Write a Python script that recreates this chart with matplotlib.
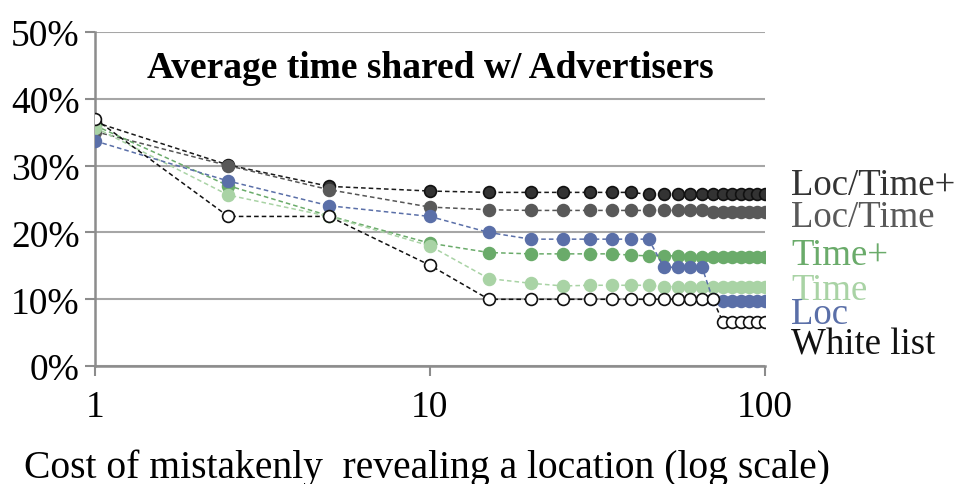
import numpy as np
import matplotlib.pyplot as plt
from matplotlib.ticker import FixedLocator, NullLocator

plt.rcParams['font.family'] = ['Liberation Serif', 'DejaVu Serif']

cost = [1, 2.5, 5, 10, 15, 20, 25, 30, 35, 40, 45, 50, 55, 60, 65, 70, 75, 80, 85, 90, 95, 100]

loc_time_plus = [36.5, 30.1, 26.9, 26.2, 26.0, 26.0, 26.0, 26.0, 26.0, 26.0, 25.7, 25.7, 25.7, 25.7,
                 25.7, 25.7, 25.7, 25.7, 25.7, 25.7, 25.7, 25.7]
loc_time = [35.1, 30.0, 26.4, 23.8, 23.4, 23.3, 23.3, 23.3, 23.3, 23.3, 23.3, 23.3, 23.3, 23.3,
            23.3, 23.1, 23.1, 23.1, 23.1, 23.1, 23.1, 23.1]
time_plus = [36.0, 27.0, 22.5, 18.4, 17.0, 16.8, 16.8, 16.8, 16.8, 16.6, 16.5, 16.5, 16.5, 16.3,
             16.3, 16.3, 16.3, 16.3, 16.3, 16.3, 16.3, 16.3]
time_only = [35.7, 25.6, 22.4, 18.0, 13.1, 12.4, 12.0, 12.1, 12.1, 12.1, 12.1, 11.9, 11.9, 11.8,
             11.8, 11.8, 11.8, 11.8, 11.8, 11.8, 11.8, 11.8]
loc_only = [33.7, 27.7, 24.0, 22.4, 20.0, 19.0, 19.0, 19.0, 19.0, 19.0, 19.0, 14.8, 14.8, 14.8,
            14.8, 10.0, 9.8, 9.8, 9.8, 9.8, 9.8, 9.8]
white_list = [37.0, 22.4, 22.4, 15.1, 10.0, 10.0, 10.0, 10.0, 10.0, 10.0, 10.0, 10.0, 10.0, 10.0,
              10.0, 10.0, 6.6, 6.6, 6.6, 6.6, 6.6, 6.6]

# name, values, line colour, marker face, marker edge
series = [
    ("Loc/Time+", loc_time_plus, "#1a1a1a", "#333333", "#111111"),
    ("Loc/Time", loc_time, "#555555", "#595959", "#595959"),
    ("Time+", time_plus, "#6aab6a", "#6aab6a", "#6aab6a"),
    ("Time", time_only, "#a9d3a5", "#a9d3a5", "#a9d3a5"),
    ("Loc", loc_only, "#5a6fa8", "#5a6fa8", "#5a6fa8"),
    ("White list", white_list, "#111111", "white", "#111111"),
]
label_y = [27.2, 22.3, 16.6, 11.5, 7.8, 3.3]
label_col = ["#333333", "#595959", "#6aab6a", "#a9d3a5", "#5a6fa8", "#111111"]

fig = plt.figure(figsize=(9.56, 4.85), dpi=100)
ax = fig.add_axes([0.0994, 0.243, 0.7005, 0.689])

for name, vals, lc, fc, ec in series:
    ax.plot(cost, vals, linestyle=(0, (3, 2)), linewidth=1.1, color=lc,
            marker='o', markersize=8.5, markerfacecolor=fc, markeredgecolor=ec,
            markeredgewidth=1.2, zorder=3)

for (name, *_), y, c in zip(series, label_y, label_col):
    ax.text(1.04, y / 50, name, transform=ax.transAxes, color=c, fontsize=26.5,
            va='center', ha='left', clip_on=False)

ax.set_xscale('log')
ax.set_xlim(1, 100)
ax.set_ylim(0, 50)
ax.xaxis.set_major_locator(FixedLocator([1, 10, 100]))
ax.xaxis.set_minor_locator(NullLocator())
ax.set_xticklabels(["1", "10", "100"])
ax.set_yticks([0, 10, 20, 30, 40, 50])
ax.set_yticklabels([f"{v}%" for v in range(0, 51, 10)])
ax.tick_params(axis='both', labelsize=27, color='#8c8c8c', width=1.5, length=7)
ax.tick_params(axis='x', pad=10)
ax.tick_params(axis='y', pad=4)
ax.grid(axis='y', color='#a6a6a6', linewidth=1.5)
ax.set_axisbelow(True)
for s in ['top', 'right']:
    ax.spines[s].set_visible(False)
for s in ['left', 'bottom']:
    ax.spines[s].set_color('#8c8c8c')
    ax.spines[s].set_linewidth(1.8)

ax.text(0.5, 0.895, "Average time shared w/ Advertisers", transform=ax.transAxes,
        ha='center', va='center', fontsize=27, fontweight='bold')
ax.set_xlabel("Cost of mistakenly  revealing a location (log scale)", fontsize=28.5)
ax.xaxis.label.set_va('center')
ax.xaxis.set_label_coords(0.496, -0.302)

fig.savefig("out.png", dpi=100)
